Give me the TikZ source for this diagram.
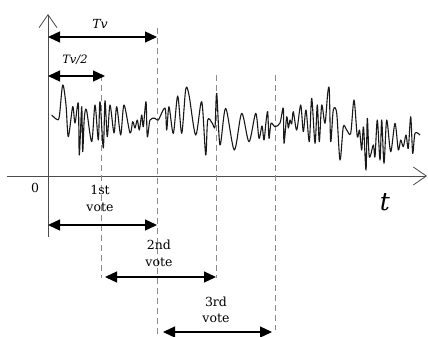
\documentclass[tikz,border=0pt]{standalone}
\usepackage{fontspec}
\setmainfont{DejaVu Serif}
\usetikzlibrary{arrows.meta}
\begin{document}
\begin{tikzpicture}[x=1pt,y=-1pt,
 axis/.style={draw=black!70, line width=0.8pt, -{Straight Barb[length=13pt,width=18pt,line width=0.8pt]}},
 guide/.style={draw=black!45, line width=1pt, dash pattern=on 6pt off 4pt},
 span/.style={line width=1.3pt, {Triangle[length=12pt,width=11pt]}-{Triangle[length=12pt,width=11pt]}},
 lbl/.style={font=\fontsize{12.5}{16.5}\selectfont, inner sep=0pt, align=center},
 ilbl/.style={font=\fontsize{12.5}{14}\selectfont\itshape, inner sep=0pt},
 signal/.style={draw=black!90, line width=1.1pt, line join=round},
 ]
\useasboundingbox (0,0) rectangle (428,337);
% axes
\coordinate (o) at (48,176);
\coordinate (ytop) at (48,14);
\coordinate (ybot) at (48,237);
\coordinate (xl) at (7,176);
\coordinate (xr) at (427,176);
\draw[axis] (ybot) -- (ytop);
\draw[axis] (xl) -- (xr);
% guides
\coordinate (g1a) at (101,75);  \coordinate (g1b) at (101,278);
\coordinate (g2a) at (157,28);  \coordinate (g2b) at (157,337);
\coordinate (g3a) at (216,75);  \coordinate (g3b) at (216,278);
\coordinate (g4a) at (275,75);  \coordinate (g4b) at (275,330);
\draw[guide] (g1a) -- (g1b);
\draw[guide] (g2a) -- (g2b);
\draw[guide] (g3a) -- (g3b);
\draw[guide] (g4a) -- (g4b);
% signal
\draw[signal] plot[smooth, tension=0.5] coordinates {
(51.7,115) (56.7,119.3) (59.3,116.7) (62.7,85) (66,105) (68.3,136.7) (72.7,106.7) (75,123) (78.3,103.3) (79.3,155) (81.7,106.7) (82.7,151.7) (84.3,118) (86.5,110) (91.7,141.7)
(95,105) (98.3,140) (100,101.7) (103.3,148) (105,100.7) (107.3,136.7) (110,105) (114,133) (116.7,106.7) (120.7,135) (124,105) (130,133) (132.7,121.7) (135,128) (137.3,120) (139.3,130) (141.7,115) (143.3,126.7) (146,101.7) (147.3,136.7) (150,120) (155,118.3) (158.3,120)
(165,108) (166.7,130) (169,106.7) (173.3,133.3) (177.7,96) (181.7,133.3) (185.7,89.3) (189,95) (195.7,135) (201.7,101.7) (205.7,155) (207.7,120) (212.3,123.3) (215,126.7) (216.7,93.3) (220,145) (225.7,108.3) (234.3,150) (241.7,113.3) (249,141.7) (255.7,113.3) (259,138.3) (262,126) (264,140) (266,122) (267.7,111.7) (269,138.3) (271,123.3) (275,126.7) (280,123)
(283.3,108.3) (284,143.3) (286.7,116.7) (288.3,128) (290,120) (291.7,124) (293.3,111.7) (296.7,130) (300.7,105) (303.3,131.7) (306,110) (309.3,141.7) (311.7,98.3) (315,143.3) (317.3,105) (319.3,141.7) (321.7,105) (325,123.3) (327.7,93.3) (329.3,90) (330.7,141.7) (333.3,110) (336.7,113.3) (340,160)
(343.3,126.7) (346.7,130) (350.7,133.3) (354,100) (357.3,136.7) (359.5,130) (361.7,150) (363.5,127) (366,170) (367.3,118.3) (369.3,156.7) (373.3,145) (375,156.7) (377.3,120) (380,160) (381.7,120) (384,163.3) (386.7,120) (390.7,151.7) (395,123.3) (398.3,150) (400.7,140) (403.3,146.7) (406,135) (408.3,148.3) (410.7,116.7) (412.7,153.3) (415,133.3) (420,135)
};
% spans
\coordinate (tvL) at (48,37);   \coordinate (tvR) at (157,37);
\coordinate (thL) at (48,76);   \coordinate (thR) at (105,76);
\coordinate (v1L) at (48,225);  \coordinate (v1R) at (157,225);
\coordinate (v2L) at (105,277); \coordinate (v2R) at (216,277);
\coordinate (v3L) at (163,332); \coordinate (v3R) at (272,332);
\draw[span] (tvL) -- (tvR);
\draw[span] (thL) -- (thR);
\draw[span] (v1L) -- (v1R);
\draw[span] (v2L) -- (v2R);
\draw[span] (v3L) -- (v3R);
% labels
\node[ilbl] (tv) at (100,24) {Tv};
\node[ilbl, font=\fontsize{11.5}{13}\selectfont\itshape] (th) at (75,60) {Tv/2};
\node[lbl] (zero) at (35,188) {0};
\node[lbl, font=\fontsize{25}{27}\selectfont\itshape] (t) at (385,202) {t};
\node[lbl] (l1) at (100,198.5) {1st\\vote};
\node[lbl] (l2) at (159,253.5) {2nd\\vote};
\node[lbl] (l3) at (216,310) {3rd\\vote};
\end{tikzpicture}
\end{document}
